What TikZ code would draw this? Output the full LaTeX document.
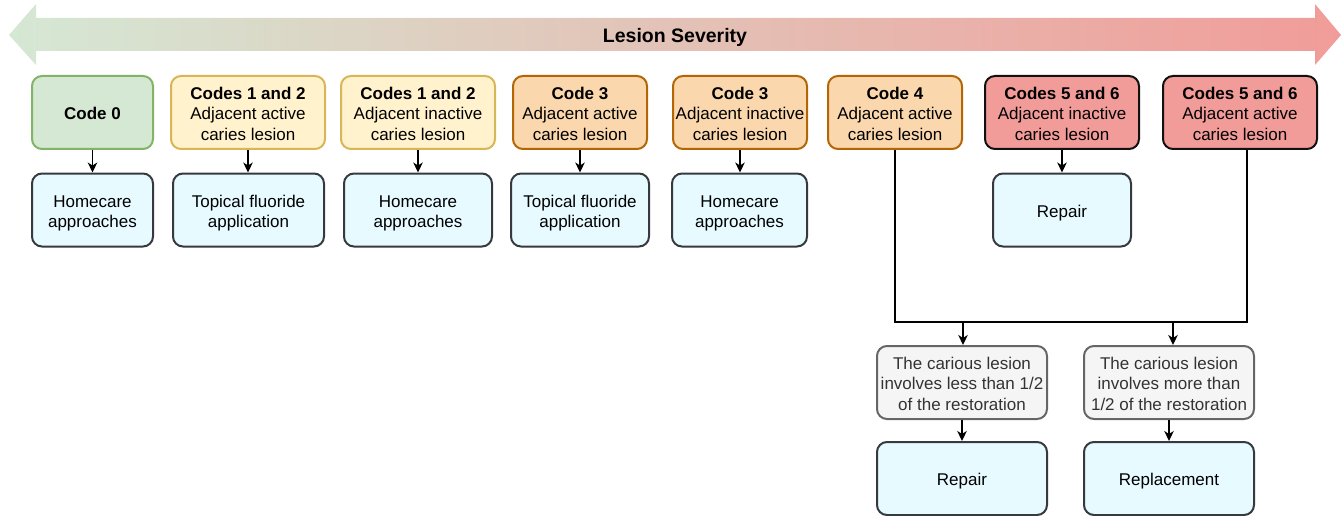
\documentclass[tikz,border=0pt]{standalone}
\usepackage{fontspec}
\setmainfont{Liberation Sans}
\usetikzlibrary{arrows.meta}
\newcommand\topstrut{\rule{0pt}{19.3pt}}
\definecolor{gfill}{HTML}{D5E8D4}\definecolor{gline}{HTML}{82B366}
\definecolor{yfill}{HTML}{FFF2CC}\definecolor{yline}{HTML}{D6B656}
\definecolor{ofill}{HTML}{FAD7AC}\definecolor{oline}{HTML}{B46504}
\definecolor{rfill}{HTML}{F19C99}\definecolor{rline}{HTML}{111111}
\definecolor{bfill}{HTML}{E6FAFF}\definecolor{bline}{HTML}{36393D}
\definecolor{grfill}{HTML}{F5F5F5}\definecolor{grline}{HTML}{666666}\definecolor{grtext}{HTML}{333333}
\begin{document}
\begin{tikzpicture}[x=1pt,y=-1pt,
  box/.style={rounded corners=10pt,line width=2pt,inner sep=0pt,align=center,
    font=\fontsize{17}{20.5}\selectfont,
    execute at end node={\rule[-4.5pt]{0pt}{4.5pt}}},
  topbox/.style={box,minimum height=73pt},
  greenbox/.style={topbox,fill=gfill,draw=gline},
  yellowbox/.style={topbox,fill=yfill,draw=yline},
  orangebox/.style={topbox,fill=ofill,draw=oline},
  redbox/.style={topbox,fill=rfill,draw=rline},
  bluebox/.style={box,minimum height=73pt,fill=bfill,draw=bline},
  graybox/.style={box,minimum height=73pt,fill=grfill,draw=grline,text=grtext},
  conn/.style={line width=1.3pt,black},
  arr/.style={conn,-{Stealth[length=10pt,width=9.5pt,inset=3pt]}}]
\useasboundingbox (0,0) rectangle (1344,516);
% severity arrow
\shade[left color=gfill,right color=rfill]
  (9,35) -- (36,4) -- (36,18) -- (1315,18) -- (1315,4) -- (1341,35)
  -- (1315,65) -- (1315,51) -- (36,51) -- (36,65) -- cycle;
\node[font=\fontsize{19.5}{23}\selectfont\bfseries] (title) at (675,37) {Lesion Severity};
% top row
\node[greenbox,minimum width=121pt] (c0) at (92.5,112.5) {\topstrut\textbf{Code 0}};
\node[yellowbox,minimum width=154pt] (c12a) at (248,112.5) {\topstrut\textbf{Codes 1 and 2}\\Adjacent active\\caries lesion};
\node[yellowbox,minimum width=154pt] (c12i) at (418,112.5) {\topstrut\textbf{Codes 1 and 2}\\Adjacent inactive\\caries lesion};
\node[orangebox,minimum width=134pt] (c3a) at (580,112.5) {\topstrut\textbf{Code 3}\\Adjacent active\\caries lesion};
\node[orangebox,minimum width=134pt] (c3i) at (740,112.5) {\topstrut\textbf{Code 3}\\Adjacent inactive\\caries lesion};
\node[orangebox,minimum width=134pt] (c4) at (895,112.5) {\topstrut\textbf{Code 4}\\Adjacent active\\caries lesion};
\node[redbox,minimum width=154pt] (c56i) at (1062,112.5) {\topstrut\textbf{Codes 5 and 6}\\Adjacent inactive\\caries lesion};
\node[redbox,minimum width=154pt] (c56a) at (1240,112.5) {\topstrut\textbf{Codes 5 and 6}\\Adjacent active\\caries lesion};
% second row
\node[bluebox,minimum width=121pt] (h0) at (92.5,210) {\topstrut Homecare\\approaches};
\node[bluebox,minimum width=151pt] (t1) at (248.5,210) {\topstrut Topical fluoride\\application};
\node[bluebox,minimum width=148pt] (h1) at (418,210) {\topstrut Homecare\\approaches};
\node[bluebox,minimum width=138pt] (t2) at (580,210) {\topstrut Topical fluoride\\application};
\node[bluebox,minimum width=135pt] (h2) at (739.5,210) {\topstrut Homecare\\approaches};
\node[bluebox,minimum width=138pt] (r1) at (1062,210) {\topstrut Repair};
% lower part
\node[graybox,minimum width=170pt] (g1) at (962,382.5) {\topstrut The carious lesion\\involves less than 1/2\\of the restoration};
\node[graybox,minimum width=170pt] (g2) at (1169,382.5) {\topstrut The carious lesion\\involves more than\\1/2 of the restoration};
\node[bluebox,minimum width=170pt] (r2) at (962,478.5) {\topstrut Repair};
\node[bluebox,minimum width=170pt] (rp) at (1169,478.5) {\topstrut Replacement};
% connectors
\draw[arr] (c0.south) -- (h0.north);
\draw[arr] (c12a.south) -- (t1.north -| c12a.south);
\draw[arr] (c12i.south) -- (h1.north);
\draw[arr] (c3a.south) -- (t2.north);
\draw[arr] (c3i.south) -- (h2.north -| c3i.south);
\draw[arr] (c56i.south) -- (r1.north);
\coordinate (j1) at (895,322);
\coordinate (j2) at (1247,322);
\draw[conn] (c4.south) -- (j1) -- (j2) -- (j2 |- c56a.south);
\draw[arr] ([xshift=1pt]g1.north |- j1) -- ([xshift=1pt]g1.north);
\draw[arr] ([xshift=4pt]g2.north |- j1) -- ([xshift=4pt]g2.north);
\draw[arr] (g1.south) -- (r2.north);
\draw[arr] (g2.south) -- (rp.north);
\end{tikzpicture}
\end{document}
